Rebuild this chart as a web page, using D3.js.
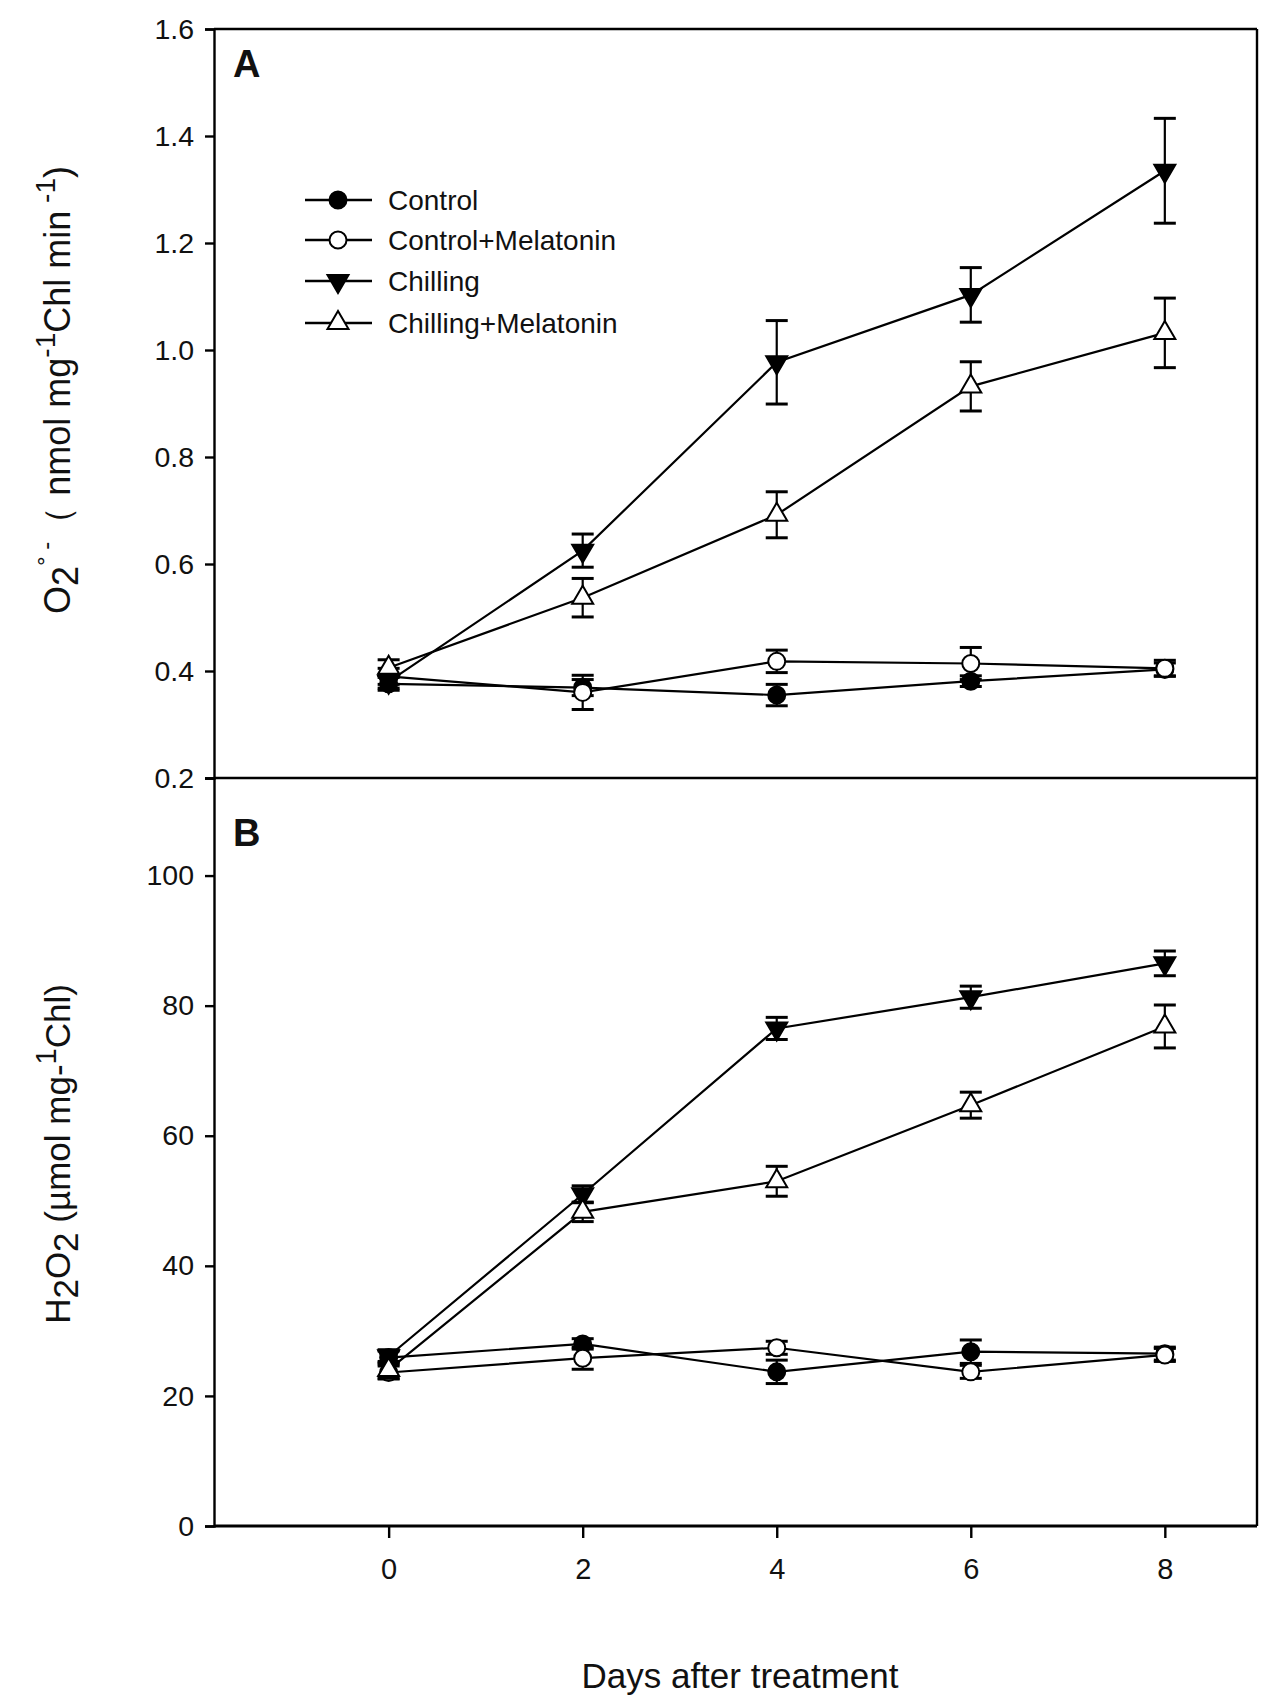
<!DOCTYPE html>
<html>
<head>
<meta charset="utf-8">
<script src="https://cdn.jsdelivr.net/npm/d3@7"></script>
<style>
  html, body { margin:0; padding:0; background:#fff; }
  svg text { font-family: "Liberation Sans", Arial, sans-serif; fill:#111; }
</style>
</head>
<body>
<svg id="chart" width="1267" height="1697"></svg>
<script>
// data
const days = [0, 2, 4, 6, 8];
const seriesNames = ["Control", "Control+Melatonin", "Chilling", "Chilling+Melatonin"];
const symbols = ["circleFilled", "circleOpen", "triDownFilled", "triUpOpen"];

// panel A: O2 radical (nmol mg-1 Chl min-1)
const aControl     = [0.376, 0.369, 0.355, 0.381, 0.403];
const aControlErr  = [0.012, 0.015, 0.020, 0.010, 0.012];
const aCtrlMel     = [0.390, 0.360, 0.418, 0.414, 0.405];
const aCtrlMelErr  = [0.015, 0.032, 0.021, 0.030, 0.015];
const aChill       = [0.380, 0.625, 0.977, 1.103, 1.335];
const aChillErr    = [0.012, 0.031, 0.078, 0.051, 0.098];
const aChillMel    = [0.406, 0.537, 0.692, 0.932, 1.032];
const aChillMelErr = [0.015, 0.036, 0.043, 0.046, 0.065];
const aTicks = [0.2, 0.4, 0.6, 0.8, 1.0, 1.2, 1.4, 1.6];

// panel B: H2O2 (umol mg-1 Chl)
const bControl     = [25.9, 28.0, 23.7, 26.8, 26.5];
const bControlErr  = [1.0, 0.8, 1.8, 1.8, 1.0];
const bCtrlMel     = [23.6, 25.8, 27.4, 23.7, 26.3];
const bCtrlMelErr  = [1.0, 1.7, 1.0, 1.0, 1.0];
const bChill       = [26.1, 51.0, 76.5, 81.3, 86.5];
const bChillErr    = [1.0, 1.3, 1.7, 1.7, 1.9];
const bChillMel    = [24.0, 48.3, 53.0, 64.7, 76.8];
const bChillMelErr = [1.3, 1.5, 2.3, 2.0, 3.3];
const bTicks = [0, 20, 40, 60, 80, 100];

const xTicks = [0, 2, 4, 6, 8];

const svg = d3.select("#chart");
const L = 214, R = 1257, TOP = 29, MID = 778, BOT = 1526;
const x = d3.scaleLinear().domain([-1.8, 8.95]).range([L, R]);
const yA = d3.scaleLinear().domain([0.2, 1.6]).range([MID, TOP]);
const yB = d3.scaleLinear().domain([0, 115]).range([BOT, MID]);

svg.append("rect").attr("width",1267).attr("height",1697).attr("fill","#fff");

function symbol(g, kind, cx, cy){
  if (kind.startsWith("circle")){
    g.append("circle").attr("cx",cx).attr("cy",cy).attr("r",8.5)
      .attr("fill", kind==="circleFilled" ? "#000" : "#fff").attr("stroke","#000").attr("stroke-width",2);
  } else {
    const s = 10.5, h = 18;
    const pts = kind==="triDownFilled"
      ? [[cx-s, cy-h/3],[cx+s, cy-h/3],[cx, cy+2*h/3]]
      : [[cx-s, cy+h/3],[cx+s, cy+h/3],[cx, cy-2*h/3]];
    g.append("polygon").attr("points", pts.map(p=>p.join(",")).join(" "))
      .attr("fill", kind==="triDownFilled" ? "#000" : "#fff").attr("stroke","#000").attr("stroke-width",2);
  }
}

function drawPanel(y, sets, ticks, fmt){
  const g = svg.append("g");
  const line = d3.line().x((d,i)=>x(days[i])).y(d=>y(d));
  sets.forEach(([vals, errs], si)=>{
    const sg = g.append("g");
    sg.append("path").attr("d", line(vals)).attr("fill","none").attr("stroke","#000").attr("stroke-width",2.2);
    vals.forEach((v,i)=>{
      const cx = x(days[i]);
      const hi = y(v+errs[i]), lo = y(v-errs[i]);
      sg.append("line").attr("x1",cx).attr("x2",cx).attr("y1",hi).attr("y2",lo).attr("stroke","#000").attr("stroke-width",2.2);
      [hi, lo].forEach(yy=> sg.append("line").attr("x1",cx-11).attr("x2",cx+11).attr("y1",yy).attr("y2",yy)
        .attr("stroke","#000").attr("stroke-width",3));
    });
    vals.forEach((v,i)=> symbol(sg, symbols[si], x(days[i]), y(v)));
  });
  // left axis
  const ax = svg.append("g").attr("transform",`translate(${L},0)`)
    .call(d3.axisLeft(y).tickValues(ticks).tickFormat(fmt).tickSize(9).tickPadding(11));
  ax.select(".domain").attr("stroke-width",2.4);
  ax.selectAll(".tick line").attr("stroke-width",2.4);
  ax.selectAll(".tick text").attr("font-size",28.5).attr("font-family","Liberation Sans, Arial, sans-serif").attr("fill","#111");
}

drawPanel(yA, [[aControl,aControlErr],[aCtrlMel,aCtrlMelErr],[aChill,aChillErr],[aChillMel,aChillMelErr]], aTicks, d3.format(".1f"));
drawPanel(yB, [[bControl,bControlErr],[bCtrlMel,bCtrlMelErr],[bChill,bChillErr],[bChillMel,bChillMelErr]], bTicks, d3.format("d"));

// frame lines
[[L,TOP,R,TOP],[R,TOP,R,BOT],[L,MID,R,MID]].forEach(([x1,y1,x2,y2])=>
  svg.append("line").attr("x1",x1).attr("y1",y1).attr("x2",x2).attr("y2",y2).attr("stroke","#000").attr("stroke-width",2.4));

// bottom axis
const xa = svg.append("g").attr("transform",`translate(0,${BOT})`)
  .call(d3.axisBottom(x).tickValues(xTicks).tickFormat(d3.format("d")).tickSize(12).tickPadding(20));
xa.select(".domain").attr("d",`M${L},0H${R}`).attr("stroke-width",3);
xa.selectAll(".tick line").attr("stroke-width",2.4);
xa.selectAll(".tick text").attr("font-size",29).attr("font-family","Liberation Sans, Arial, sans-serif").attr("fill","#111");

svg.append("text").attr("x",740).attr("y",1688).attr("text-anchor","middle").attr("font-size",35).text("Days after treatment");

// panel letters
svg.append("text").attr("x",233).attr("y",77).attr("font-size",38).attr("font-weight","bold").text("A");
svg.append("text").attr("x",233).attr("y",846).attr("font-size",38).attr("font-weight","bold").text("B");

// y titles
const tA = svg.append("text").attr("transform","translate(70,390) rotate(-90)").attr("text-anchor","middle").attr("font-size",36);
tA.append("tspan").text("O");
tA.append("tspan").attr("dy",8).text("2");
tA.append("tspan").attr("dy",-24).attr("font-size",24).text("°");
tA.append("tspan").attr("font-size",24).text(" -");
tA.append("tspan").attr("dy",16).text("（ nmol mg");
tA.append("tspan").attr("dy",-15).attr("font-size",28).text("-1");
tA.append("tspan").attr("dy",15).text("Chl min");
tA.append("tspan").attr("dy",-15).attr("font-size",28).text(" -1");
tA.append("tspan").attr("dy",15).text(")");

const tB = svg.append("text").attr("transform","translate(70,1154) rotate(-90)").attr("text-anchor","middle").attr("font-size",35);
tB.append("tspan").text("H");
tB.append("tspan").attr("dy",8).text("2");
tB.append("tspan").attr("dy",-8).text("O");
tB.append("tspan").attr("dy",8).text("2");
tB.append("tspan").attr("dy",-8).text(" (µmol mg-");
tB.append("tspan").attr("dy",-14).attr("font-size",29).text("1");
tB.append("tspan").attr("dy",14).text("Chl)");

// legend
const legY = [200, 240, 281, 323];
const lg = svg.append("g");
seriesNames.forEach((name,i)=>{
  lg.append("line").attr("x1",305).attr("x2",372).attr("y1",legY[i]).attr("y2",legY[i]).attr("stroke","#000").attr("stroke-width",2.4);
  symbol(lg, symbols[i], 338, legY[i]);
  lg.append("text").attr("x",388).attr("y",legY[i]+10).attr("font-size",28).text(name);
});
</script>
</body>
</html>
